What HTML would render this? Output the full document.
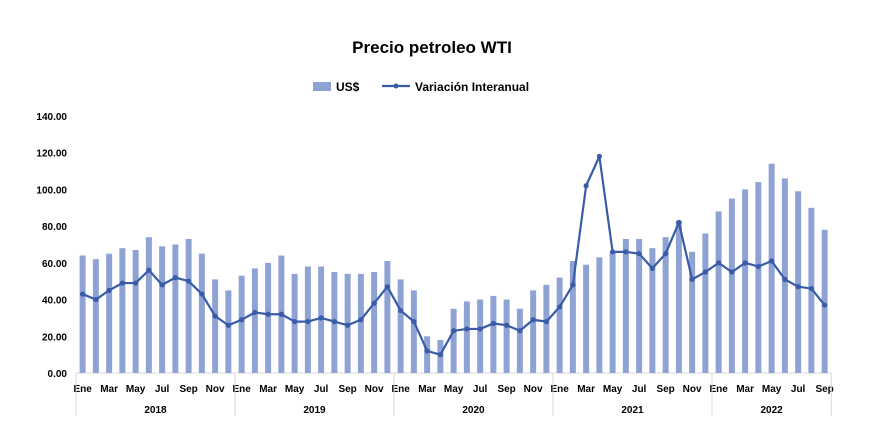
<!DOCTYPE html>
<html><head><meta charset="utf-8"><style>
body{margin:0;background:#fff;font-family:"Liberation Sans",Arial,sans-serif;}
svg text{font-family:"Liberation Sans",Arial,sans-serif;}
</style></head><body>
<svg width="870" height="443" viewBox="0 0 870 443" id="c">
<rect width="870" height="443" fill="#fff"/>
<text x="432" y="53" text-anchor="middle" font-size="17" font-weight="bold" fill="#000">Precio petroleo WTI</text>
<g>
<rect x="313" y="82" width="18" height="9" fill="#8fa2d4"/>
<text x="336" y="91" font-size="12" font-weight="bold">US$</text>
<line x1="382" y1="86" x2="410" y2="86" stroke="#3a5ba7" stroke-width="2.2"/>
<circle cx="396" cy="86" r="2.5" fill="#3a5ba7"/>
<text x="415" y="91" font-size="12" font-weight="bold">Variación Interanual</text>
</g>
<g id="plot"></g>
</svg>
<script>
const months=["Ene","Feb","Mar","Abr","May","Jun","Jul","Ago","Sep","Oct","Nov","Dic"];
const years=["2018","2019","2020","2021","2022"];
const yTicks=[0,20,40,60,80,100,120,140];
const usd=[64,62,65,68,67,74,69,70,73,65,51,45,
53,57,60,64,54,58,58,55,54,54,55,61,
51,45,20,18,35,39,40,42,40,35,45,48,
52,61,59,63,66,73,73,68,74,83,66,76,
88,95,100,104,114,106,99,90,78];
const variacion=[43,40,45,49,49,56,48,52,50,43,31,26,
29,33,32,32,28,28,30,28,26,29,38,47,
34,28,12,10,23,24,24,27,26,23,29,28,
36,48,102,118,66,66,65,57,65,82,51,55,
60,55,60,58,61,51,47,46,37];
const NS="http://www.w3.org/2000/svg";
const g=document.getElementById("plot");
const x0=76,step=13.25,yBase=373,yTop=116,yMax=140;
const X=i=>x0+step*(i+0.5);
const Y=v=>yBase-(v/yMax)*(yBase-yTop);
function mk(t,a){const e=document.createElementNS(NS,t);for(const k in a)e.setAttribute(k,a[k]);g.appendChild(e);return e;}
yTicks.forEach(v=>{const t=mk("text",{x:67,y:Y(v)+4,"text-anchor":"end","font-size":"10","font-weight":"bold"});t.textContent=v.toFixed(2);

});
const n=usd.length;
mk("line",{x1:x0,y1:yBase,x2:x0+step*n,y2:yBase,stroke:"#d9d9d9"});
usd.forEach((v,i)=>{const r=mk("rect",{x:X(i)-3,y:Y(v),width:6,height:yBase-Y(v),fill:"#8fa2d4"});

});
const pts=variacion.map((v,i)=>X(i)+","+Y(v)).join(" ");
const pl=mk("polyline",{points:pts,fill:"none",stroke:"#3a5ba7","stroke-width":"2.2","stroke-linejoin":"round"});


variacion.forEach((v,i)=>{const c=mk("circle",{cx:X(i),cy:Y(v),r:2.6,fill:"#3a5ba7"});

});
for(let i=0;i<n;i+=2){const t=mk("text",{x:X(i),y:392,"text-anchor":"middle","font-size":"10","font-weight":"bold"});t.textContent=months[i%12];

}
years.forEach((yr,k)=>{const s=x0+k*12*step;const e=Math.min(x0+(k+1)*12*step,x0+n*step);
mk("line",{x1:s,y1:yBase,x2:s,y2:416,stroke:"#d9d9d9"});
const t=mk("text",{x:(s+e)/2,y:413,"text-anchor":"middle","font-size":"10","font-weight":"bold"});t.textContent=yr;

});
mk("line",{x1:x0+n*step,y1:yBase,x2:x0+n*step,y2:416,stroke:"#d9d9d9"});
</script>
</body></html>
